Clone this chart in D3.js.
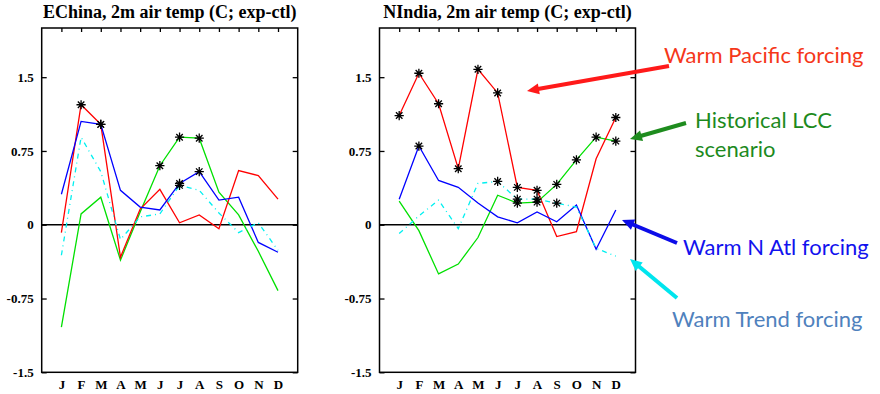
<!DOCTYPE html>
<html>
<head>
<meta charset="utf-8">
<script src="https://cdn.jsdelivr.net/npm/d3@7"></script>
<style>
  html, body { margin: 0; padding: 0; background: #fff; }
  svg { display: block; }
  .serif { font-family: "Liberation Serif", "Times New Roman", Times, "DejaVu Serif", serif; font-weight: bold; }
</style>
</head>
<body>
<div id="graf"></div>
<script>
// Datos
const months = ["J", "F", "M", "A", "M", "J", "J", "A", "S", "O", "N", "D"]
const yTicks = [-1.5, -0.75, 0, 0.75, 1.5]

// EChina
const chinaPacific = [-0.08, 1.22, 1.02, -0.33, 0.16, 0.36, 0.02, 0.10, -0.04, 0.55, 0.50, 0.26]
const chinaNAtl = [0.31, 1.05, 1.02, 0.35, 0.18, 0.15, 0.42, 0.54, 0.25, 0.28, -0.18, -0.28]
const chinaLCC = [-1.04, 0.11, 0.28, -0.36, 0.13, 0.60, 0.89, 0.88, 0.33, 0.10, -0.27, -0.67]
const chinaTrend = [-0.31, 0.89, 0.54, -0.15, 0.08, 0.11, 0.40, 0.35, 0.12, -0.08, 0.02, -0.26]
// meses significativos (1 = J)
const chinaPacificSig = [2, 3]
const chinaNAtlSig = [3, 7, 8]
const chinaLCCSig = [6, 7, 8]
const chinaTrendSig = [7]

// NIndia
const indiaPacific = [1.11, 1.54, 1.23, 0.57, 1.58, 1.34, 0.38, 0.35, -0.12, -0.07, 0.67, 1.09]
const indiaNAtl = [0.26, 0.80, 0.45, 0.38, 0.22, 0.08, 0.02, 0.13, 0.03, 0.20, -0.25, 0.15]
const indiaLCC = [0.24, -0.06, -0.50, -0.40, -0.13, 0.30, 0.22, 0.23, 0.41, 0.66, 0.89, 0.85]
const indiaTrend = [-0.09, 0.09, 0.25, -0.04, 0.42, 0.44, 0.26, 0.26, 0.22, 0.18, -0.24, -0.32]
const indiaPacificSig = [1, 2, 3, 4, 5, 6, 7, 8, 12]
const indiaNAtlSig = [2]
const indiaLCCSig = [7, 8, 9, 10, 11, 12]
const indiaTrendSig = [6, 7, 8, 9]

const panels = [
  {
    title: "EChina, 2m air temp (C; exp-ctl)",
    left: 41.7,
    series: [
      { values: chinaLCC, sig: chinaLCCSig, color: "#00e000", dash: null },
      { values: chinaPacific, sig: chinaPacificSig, color: "#ff0000", dash: null },
      { values: chinaNAtl, sig: chinaNAtlSig, color: "#0000ff", dash: null },
      { values: chinaTrend, sig: chinaTrendSig, color: "#00f0f0", dash: "5,4,1,4" },
    ],
  },
  {
    title: "NIndia, 2m air temp (C; exp-ctl)",
    left: 379.5,
    series: [
      { values: indiaLCC, sig: indiaLCCSig, color: "#00e000", dash: null },
      { values: indiaPacific, sig: indiaPacificSig, color: "#ff0000", dash: null },
      { values: indiaNAtl, sig: indiaNAtlSig, color: "#0000ff", dash: null },
      { values: indiaTrend, sig: indiaTrendSig, color: "#00f0f0", dash: "5,4,1,4" },
    ],
  },
]

// Anotaciones
const labels = [
  { lines: ["Warm Pacific forcing"], x: 664, y: 63, color: "#f5371a" },
  { lines: ["Historical LCC", "scenario"], x: 695, y: 128, color: "#1d8a1d" },
  { lines: ["Warm N Atl forcing"], x: 683, y: 255, color: "#1212ee" },
  { lines: ["Warm Trend forcing"], x: 672, y: 327, color: "#4f81bd" },
]
const arrows = [
  { from: [669, 66], to: [527, 91], color: "#ff1a1a" },
  { from: [686, 123], to: [630, 139], color: "#1e8c1e" },
  { from: [677, 243], to: [622, 220], color: "#0c0ce8" },
  { from: [677, 298], to: [630, 259], color: "#00e5ee" },
]

const anchoTotal = 880
const altoTotal = 394
const margenTop = 28
const ancho = 256
const alto = 344.3

const svg = d3
  .select("#graf")
  .append("svg")
  .attr("width", anchoTotal)
  .attr("height", altoTotal)

// Escaladores
const x = d3.scaleLinear().domain([0, 13]).range([0, ancho])
const y = d3.scaleLinear().domain([-1.5, 2]).range([alto, 0])
const line = d3
  .line()
  .x((d, i) => x(i + 1))
  .y((d) => y(d))

const starPath = (r) => {
  const p = d3.path()
  for (let k = 0; k < 4; k++) {
    const a = (k * Math.PI) / 4
    p.moveTo(-r * Math.cos(a), -r * Math.sin(a))
    p.lineTo(r * Math.cos(a), r * Math.sin(a))
  }
  return p.toString()
}

panels.forEach((panel) => {
  const g = svg.append("g").attr("transform", `translate(${panel.left}, ${margenTop})`)

  // Ejes
  const yAxisGroup = g
    .append("g")
    .call(
      d3.axisLeft(y).tickValues(yTicks).tickSizeInner(-5).tickSizeOuter(0).tickPadding(8).tickFormat((d) => String(d))
    )
  const yRightGroup = g
    .append("g")
    .attr("transform", `translate(${ancho}, 0)`)
    .call(d3.axisRight(y).tickValues(yTicks).tickSizeInner(-5).tickSizeOuter(0).tickFormat(""))
  const xTopGroup = g
    .append("g")
    .call(d3.axisTop(x).tickValues(d3.range(1, 13)).tickSizeInner(-4).tickSizeOuter(0).tickFormat(""))
  const xAxisGroup = g
    .append("g")
    .attr("transform", `translate(0, ${alto})`)
    .call(
      d3
        .axisBottom(x)
        .tickValues(d3.range(1, 13))
        .tickSize(0)
        .tickPadding(7)
        .tickFormat((d) => months[d - 1])
    )

  ;[yAxisGroup, yRightGroup, xTopGroup, xAxisGroup].forEach((ax) => {
    ax.attr("font-family", null).attr("font-size", null)
    ax.select(".domain").remove()
    ax.selectAll("line").attr("stroke", "#000").attr("stroke-width", 1.3)
    ax.selectAll("text")
      .attr("class", "serif")
      .attr("fill", "#000")
      .style("font-size", "13px")
  })

  // Marco y línea cero
  g.append("rect")
    .attr("width", ancho)
    .attr("height", alto)
    .attr("fill", "none")
    .attr("stroke", "#000")
    .attr("stroke-width", 1.5)
  g.append("line")
    .attr("x1", 0)
    .attr("x2", ancho)
    .attr("y1", y(0))
    .attr("y2", y(0))
    .attr("stroke", "#000")
    .attr("stroke-width", 1.5)

  // Series
  panel.series.forEach((s) => {
    g.append("path")
      .datum(s.values)
      .attr("d", line)
      .attr("fill", "none")
      .attr("stroke", s.color)
      .attr("stroke-width", 1.3)
      .attr("stroke-dasharray", s.dash)
  })
  panel.series.forEach((s) => {
    g.selectAll(null)
      .data(s.sig)
      .join("path")
      .attr("transform", (m) => `translate(${x(m)}, ${y(s.values[m - 1])})`)
      .attr("d", starPath(4.6))
      .attr("stroke", "#000")
      .attr("stroke-width", 1.3)
  })

  // Título
  svg
    .append("text")
    .attr("class", "serif")
    .attr("x", panel.left + ancho / 2)
    .attr("y", 18)
    .attr("text-anchor", "middle")
    .style("font-size", "18px")
    .text(panel.title)
})

// Flechas
arrows.forEach((a) => {
  const dx = a.to[0] - a.from[0]
  const dy = a.to[1] - a.from[1]
  const len = Math.hypot(dx, dy)
  const ux = dx / len
  const uy = dy / len
  const head = 12
  const half = 5.5
  const bx = a.to[0] - ux * head
  const by = a.to[1] - uy * head
  svg
    .append("line")
    .attr("x1", a.from[0])
    .attr("y1", a.from[1])
    .attr("x2", bx + ux * 1)
    .attr("y2", by + uy * 1)
    .attr("stroke", a.color)
    .attr("stroke-width", 4)
  svg
    .append("path")
    .attr(
      "d",
      `M${a.to[0]},${a.to[1]} L${bx - uy * half},${by + ux * half} L${bx + uy * half},${by - ux * half} Z`
    )
    .attr("fill", a.color)
})

// Textos
labels.forEach((l) => {
  const t = svg
    .append("text")
    .attr("x", l.x)
    .attr("y", l.y)
    .attr("fill", l.color)
    .style("font-family", "Lato, 'Open Sans', sans-serif")
    .style("font-size", "22px")
  l.lines.forEach((s, i) => {
    t.append("tspan")
      .attr("x", l.x)
      .attr("dy", i === 0 ? 0 : 28.5)
      .text(s)
  })
})
</script>
</body>
</html>
